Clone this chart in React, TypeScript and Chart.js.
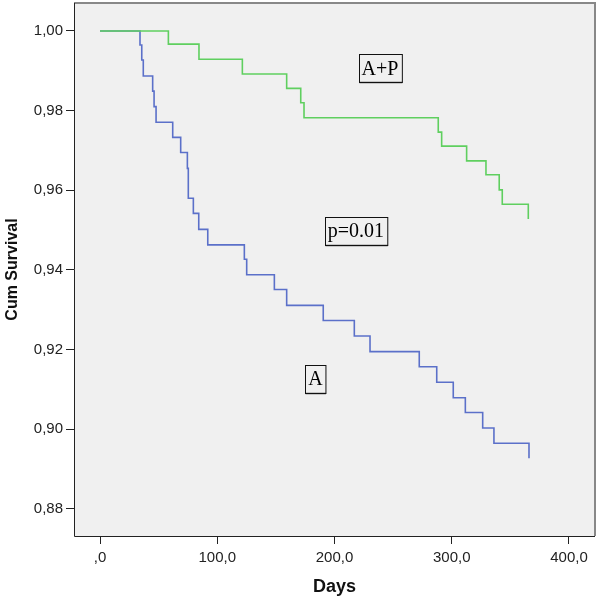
import React, { useEffect, useRef } from "react";
import { Chart, registerables } from "chart.js";

Chart.register(...registerables);

// Kaplan-Meier curves (days, cumulative survival)
const apDays = [0, 58.3, 84.4, 121.4, 159.2, 171.2, 174.0, 288.5, 291.4, 312.7, 329.2, 340.5, 343.1, 365.3];
const apSurv = [1.0, 0.9967, 0.9929, 0.9892, 0.9856, 0.982, 0.9782, 0.9746, 0.9711, 0.9674, 0.9639, 0.9601, 0.9565, 0.9528];

const aDays = [0, 34.1, 35.6, 36.9, 44.9, 46.1, 47.8, 62.0, 68.8, 74.5, 75.3, 79.6, 84.2, 91.9, 123.1, 125.1, 148.7, 159.2, 190.4, 216.9, 230.3, 272.3, 287.2, 301.3, 311.6, 326.4, 336.0, 365.9];
const aSurv = [1.0, 0.9965, 0.9927, 0.9887, 0.9849, 0.981, 0.9771, 0.9733, 0.9695, 0.9655, 0.958, 0.9542, 0.9502, 0.9463, 0.9427, 0.9388, 0.9351, 0.9311, 0.9273, 0.9234, 0.9195, 0.9157, 0.9118, 0.9079, 0.9042, 0.9003, 0.8965, 0.8927];

const xTicks = [0, 100, 200, 300, 400];
const yTicks = [0.88, 0.9, 0.92, 0.94, 0.96, 0.98, 1.0];

const labelTexts = ["A+P", "p=0.01", "A"];
const labelDays = [238.8, 218.3, 183.8];
const labelSurv = [0.9906, 0.9498, 0.9126];

const fmtComma = (v: number, d: number) => {
  const s = v.toFixed(d).replace(".", ",");
  return s.startsWith("0,") && d === 1 ? s.slice(1) : s;
};

const bgPlugin = {
  id: "plotBg",
  beforeDraw(chart: any) {
    const { ctx, chartArea: a } = chart;
    ctx.save();
    ctx.fillStyle = "#f0f0f0";
    ctx.fillRect(a.left, a.top, a.right - a.left, a.bottom - a.top);
    ctx.restore();
  },
  afterDraw(chart: any) {
    const { ctx, chartArea: a } = chart;
    ctx.save();
    ctx.strokeStyle = "#888";
    ctx.lineWidth = 2;
    ctx.beginPath();
    ctx.moveTo(a.left, a.top);
    ctx.lineTo(a.right, a.top);
    ctx.lineTo(a.right, a.bottom);
    ctx.stroke();
    ctx.strokeStyle = "#222";
    ctx.lineWidth = 1;
    ctx.beginPath();
    ctx.moveTo(a.left + 0.5, a.top);
    ctx.lineTo(a.left + 0.5, a.bottom + 0.5);
    ctx.lineTo(a.right, a.bottom + 0.5);
    ctx.stroke();
    // text boxes
    const xs = chart.scales.x;
    const ys = chart.scales.y;
    ctx.font = '20px "Liberation Serif", serif';
    ctx.textAlign = "center";
    ctx.textBaseline = "middle";
    labelTexts.forEach((t, i) => {
      const cx = xs.getPixelForValue(labelDays[i]);
      const cy = ys.getPixelForValue(labelSurv[i]);
      const w = ctx.measureText(t).width + 6;
      const h = 28;
      const l = Math.round(cx - w / 2) + 0.5;
      const tp = Math.round(cy - h / 2) + 0.5;
      ctx.strokeStyle = "#999";
      ctx.lineWidth = 2;
      ctx.beginPath();
      ctx.moveTo(l, tp + h);
      ctx.lineTo(l + w, tp + h);
      ctx.stroke();
      ctx.strokeStyle = "#111";
      ctx.lineWidth = 1;
      ctx.strokeRect(l, tp, w, h);
      ctx.fillStyle = "#000";
      ctx.fillText(t, cx, cy + 1);
    });
    ctx.restore();
  },
};

const zeroPad = (s: any) => {
  s.paddingTop = 0;
  s.paddingBottom = 0;
  s.paddingLeft = 0;
  s.paddingRight = 0;
};

export default function App() {
  const ref = useRef<HTMLCanvasElement | null>(null);
  useEffect(() => {
    if (!ref.current) return;
    const mk = (d: number[], s: number[]) => d.map((x, i) => ({ x, y: s[i] }));
    const chart = new Chart(ref.current, {
      type: "line",
      data: {
        datasets: [
          {
            label: "A+P",
            data: mk(apDays, apSurv),
            borderColor: "#5fcf5f",
            borderWidth: 1.6,
            pointRadius: 0,
            stepped: true,
            fill: false,
          },
          {
            label: "A",
            data: mk(aDays, aSurv),
            borderColor: "#5b70c9",
            borderWidth: 1.6,
            pointRadius: 0,
            stepped: true,
            fill: false,
          },
        ],
      },
      options: {
        animation: false,
        responsive: false,
        maintainAspectRatio: false,
        layout: { padding: { top: 3, right: 5, left: 0, bottom: 0 } },
        plugins: { legend: { display: false }, tooltip: { enabled: false } },
        scales: {
          x: {
            type: "linear",
            min: -22.2,
            max: 422.2,
            afterBuildTicks: (s: any) => {
              s.ticks = xTicks.map((v) => ({ value: v }));
            },
            afterFit: (s: any) => {
              s.height = 65;
              zeroPad(s);
            },
            grid: { drawOnChartArea: false, drawTicks: true, tickLength: 8, color: "#222" },
            border: { display: false },
            ticks: {
              color: "#222",
              font: { family: '"Liberation Sans", Arial, sans-serif', size: 15 },
              padding: 5,
              maxRotation: 0,
              callback: (v: any) => fmtComma(Number(v), 1),
            },
            title: {
              display: true,
              text: "Days",
              color: "#111",
              font: { family: '"Liberation Sans", Arial, sans-serif', size: 18, weight: "bold" },
              padding: { top: 0, bottom: 3 },
            },
          },
          y: {
            type: "linear",
            min: 0.8732,
            max: 1.00703,
            afterBuildTicks: (s: any) => {
              s.ticks = yTicks.map((v) => ({ value: v }));
            },
            afterFit: (s: any) => {
              s.width = 74;
              zeroPad(s);
            },
            grid: { drawOnChartArea: false, drawTicks: true, tickLength: 8, color: "#222" },
            border: { display: false },
            ticks: {
              color: "#222",
              font: { family: '"Liberation Sans", Arial, sans-serif', size: 15 },
              padding: 3,
              callback: (v: any) => fmtComma(Number(v), 2),
            },
            title: {
              display: true,
              text: "Cum Survival",
              color: "#111",
              font: { family: '"Liberation Sans", Arial, sans-serif', size: 16, weight: "bold" },
              padding: { top: 3, bottom: 0 },
            },
          },
        },
      },
      plugins: [bgPlugin],
    });
    return () => chart.destroy();
  }, []);
  return (
    <div style={{ position: "fixed", left: 0, top: 0, width: 600, height: 601, background: "#fff" }}>
      <canvas ref={ref} width={600} height={601} style={{ width: 600, height: 601 }} />
    </div>
  );
}
